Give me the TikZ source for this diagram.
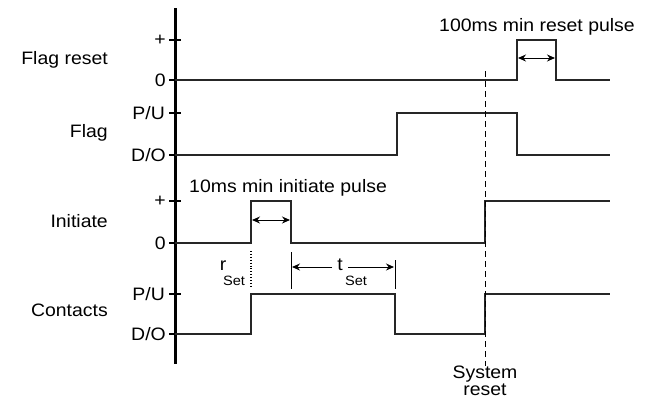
\documentclass[tikz,border=0pt]{standalone}
\usepackage{fontspec}
\setmainfont{Liberation Sans}[FakeStretch=1.08]
\usetikzlibrary{arrows.meta}
\begin{document}
\begin{tikzpicture}[x=1pt,y=-1pt,
  lbl/.style={font=\fontsize{18}{20}\selectfont, inner sep=0pt, anchor=east},
  tl/.style={font=\fontsize{18}{20}\selectfont, inner sep=0pt, anchor=east},
  txt/.style={font=\fontsize{18}{20}\selectfont, inner sep=0pt},
  sub/.style={font=\fontsize{13.5}{15}\selectfont, inner sep=0pt},
  sig/.style={line width=1.2pt, draw=black!85},
  axis/.style={line width=3pt},
  tick/.style={line width=2.5pt},
  dim/.style={line width=1pt, {Stealth[length=8pt,width=7pt]}-{Stealth[length=8pt,width=7pt]}},
  dimr/.style={line width=1pt, -{Stealth[length=8pt,width=7pt]}},
  guide/.style={line width=0.9pt}]
\useasboundingbox (0,0) rectangle (653,400);
% axis
\coordinate (atop) at (175,8);
\coordinate (abot) at (175,364);
\draw[axis] (atop) -- (abot);
% ticks
\foreach \n/\y in {fp/40,fz/80,gp/113,gd/155,ip/201,iz/243,cp/294,cd/334}{
  \coordinate (\n) at (175,\y);
  \draw[tick] (169,\y) -- (181,\y);
}
% tick labels
\node[tl] (tfp) at (166,40) {+};
\node[tl] (tfz) at (166,80) {0};
\node[tl] (tgp) at (165,113) {P/U};
\node[tl] (tgd) at (166,155) {D/O};
\node[tl] (tip) at (166,201) {+};
\node[tl] (tiz) at (166,243) {0};
\node[tl] (tcp) at (165,294) {P/U};
\node[tl] (tcd) at (166,334) {D/O};
% signal names
\node[lbl] (nfr) at (108,60) {Flag reset};
\node[lbl] (nfl) at (108,133) {Flag};
\node[lbl] (nin) at (108,221) {Initiate};
\node[lbl] (nco) at (108,310) {Contacts};
% waveforms
\draw[sig] (fz) -- (517,80) -- (517,40) -- (556,40) -- (556,80) -- (610,80);
\draw[sig] (gd) -- (397,155) -- (397,113) -- (517,113) -- (517,155) -- (610,155);
\draw[sig] (iz) -- (251,243) -- (251,201) -- (291,201) -- (291,243) -- (485,243) -- (485,201) -- (610,201);
\draw[sig] (cd) -- (251,334) -- (251,294) -- (395,294) -- (395,334) -- (485,334) -- (485,294) -- (610,294);
% system reset
\coordinate (srtop) at (485,71);
\node[txt, align=center, font=\fontsize{18}{17}\selectfont] (sr) at (485,381) {System\\reset};
\draw[guide, dashed, dash pattern=on 6pt off 4pt] (srtop) -- (sr.north);
% reset pulse
\coordinate (ra) at (518,58);
\coordinate (rb) at (555,58);
\draw[dim] (ra) -- (rb);
\node[txt] (rlab) at (537,27) {100ms min reset pulse};
% initiate pulse
\coordinate (ia) at (252,220);
\coordinate (ib) at (290,220);
\draw[dim] (ia) -- (ib);
\node[txt, anchor=west] (ilab) at (189,188) {10ms min initiate pulse};
% r_set
\draw[guide, dotted, line width=1.5pt] (251,251) -- (251,288);
\node[txt] (r) at (223,266) {r};
\node[sub] (rs) at (234,281) {Set};
% t_set
\coordinate (t1) at (291,252);
\coordinate (t2) at (291,289);
\coordinate (t3) at (395,260);
\coordinate (t4) at (395,289);
\draw[guide] (t1) -- (t2);
\draw[guide] (t3) -- (t4);
\node[txt] (t) at (340,265) {t};
\node[sub] (ts) at (356,281) {Set};
\coordinate (tl1) at (332,267);
\coordinate (tr1) at (348,267);
\draw[dimr] (tl1) -- (292,267);
\draw[dimr] (tr1) -- (394,267);
\end{tikzpicture}
\end{document}
